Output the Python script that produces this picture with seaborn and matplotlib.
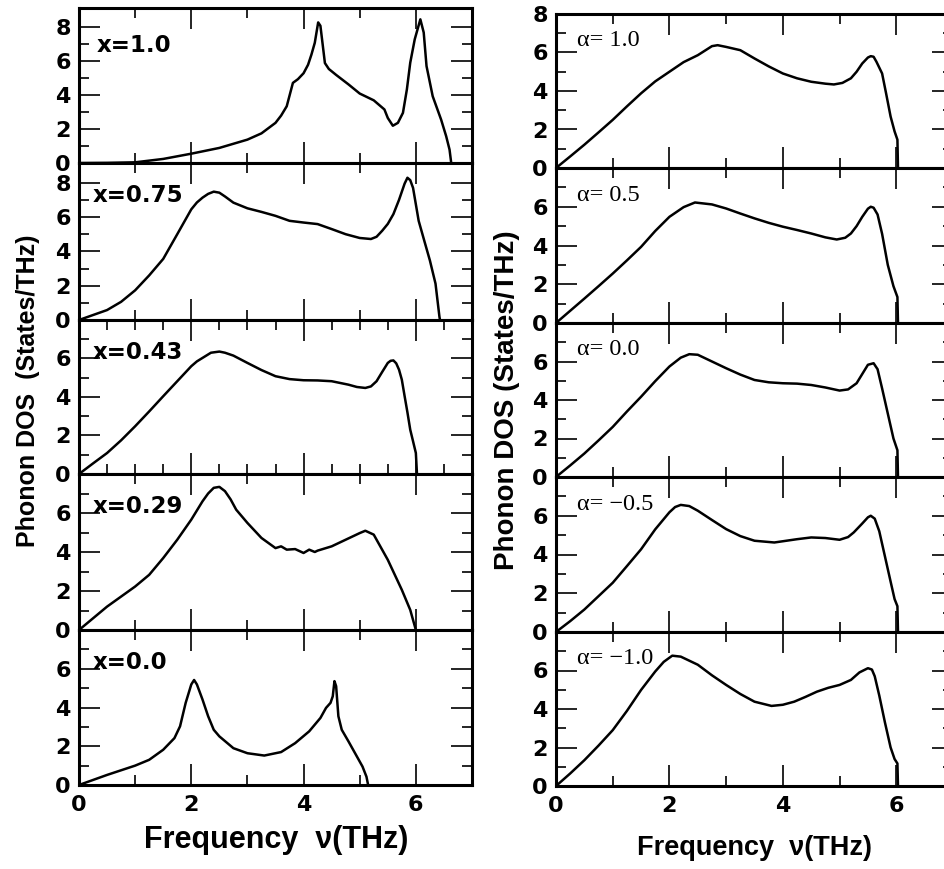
import matplotlib
matplotlib.use("Agg")
import matplotlib.pyplot as plt
import seaborn as sns
import pandas as pd
from matplotlib.ticker import MultipleLocator, FixedLocator

# ---------------- data ----------------
# Left column: composition x
labels_left = ["x=1.0", "x=0.75", "x=0.43", "x=0.29", "x=0.0"]

f_x100 = [0, 0.5, 1.0, 1.5, 2.0, 2.5, 3.0, 3.25, 3.5, 3.6, 3.7, 3.81, 3.9, 4.0, 4.08, 4.14, 4.2,
          4.26, 4.3, 4.34, 4.38, 4.45, 4.58, 4.8, 5.0, 5.25, 5.44, 5.5, 5.59, 5.68, 5.77,
          5.84, 5.9, 5.98, 6.08, 6.14, 6.19, 6.3, 6.45, 6.54, 6.6, 6.63]
d_x100 = [0, 0.01, 0.04, 0.24, 0.55, 0.89, 1.38, 1.75, 2.37, 2.8, 3.35, 4.73, 4.95, 5.3, 5.8,
          6.4, 7.1, 8.3, 8.1, 7.0, 5.9, 5.55, 5.2, 4.64, 4.1, 3.7, 3.16, 2.66, 2.2, 2.37,
          2.96, 4.34, 5.92, 7.3, 8.48, 7.7, 5.72, 3.94, 2.56, 1.58, 0.79, 0.0]

f_x075 = [0, 0.25, 0.5, 0.75, 1.0, 1.25, 1.5, 1.75, 2.0, 2.1, 2.2, 2.3, 2.4, 2.5, 2.6, 2.75,
          3.0, 3.25, 3.5, 3.75, 4.0, 4.25, 4.5, 4.75, 5.0, 5.2, 5.3, 5.4, 5.5, 5.6, 5.7,
          5.8, 5.85, 5.9, 5.95, 6.05, 6.15, 6.25, 6.35, 6.42, 6.43]
d_x075 = [0, 0.29, 0.58, 1.06, 1.73, 2.6, 3.56, 5.0, 6.45, 6.85, 7.13, 7.35, 7.48, 7.42, 7.2,
          6.84, 6.51, 6.3, 6.07, 5.78, 5.68, 5.59, 5.3, 5.0, 4.78, 4.72, 4.85, 5.2, 5.6,
          6.17, 7.0, 7.95, 8.29, 8.15, 7.7, 5.78, 4.62, 3.47, 2.12, 0.19, 0.0]

f_x043 = [0, 0.25, 0.5, 0.75, 1.0, 1.25, 1.5, 1.75, 2.0, 2.1, 2.25, 2.35, 2.5, 2.6, 2.75,
          3.0, 3.25, 3.5, 3.75, 4.0, 4.25, 4.5, 4.65, 4.8, 4.95, 5.1, 5.2, 5.3, 5.4, 5.5,
          5.55, 5.6, 5.65, 5.7, 5.75, 5.8, 5.85, 5.9, 5.95, 6.0, 6.02]
d_x043 = [0, 0.55, 1.09, 1.75, 2.48, 3.25, 4.04, 4.82, 5.6, 5.85, 6.12, 6.3, 6.36, 6.3, 6.15,
          5.77, 5.4, 5.08, 4.93, 4.87, 4.86, 4.82, 4.73, 4.64, 4.52, 4.47, 4.55, 4.82, 5.3,
          5.77, 5.88, 5.9, 5.75, 5.42, 4.9, 4.04, 3.2, 2.3, 1.7, 1.09, 0.0]

f_x029 = [0, 0.5, 1.0, 1.25, 1.5, 1.75, 2.0, 2.2, 2.3, 2.4, 2.5, 2.6, 2.7, 2.8, 3.0, 3.25,
          3.5, 3.6, 3.7, 3.85, 4.0, 4.1, 4.2, 4.25, 4.5, 4.75, 5.0, 5.1, 5.25, 5.5, 5.75,
          5.9, 6.0]
d_x029 = [0, 1.2, 2.23, 2.83, 3.69, 4.63, 5.66, 6.6, 7.0, 7.29, 7.34, 7.12, 6.7, 6.17, 5.49,
          4.72, 4.2, 4.29, 4.12, 4.15, 3.95, 4.12, 4.0, 4.07, 4.29, 4.63, 4.97, 5.09, 4.89,
          3.6, 2.06, 1.03, 0.0]

f_x000 = [0, 0.5, 1.0, 1.25, 1.5, 1.7, 1.8, 1.9, 2.0, 2.05, 2.1, 2.2, 2.3, 2.4, 2.5, 2.75,
          3.0, 3.3, 3.6, 3.85, 4.1, 4.3, 4.4, 4.48, 4.52, 4.55, 4.58, 4.62, 4.68, 4.8, 4.95,
          5.05, 5.12, 5.15]
d_x000 = [0, 0.52, 1.0, 1.3, 1.82, 2.42, 3.03, 4.24, 5.19, 5.42, 5.19, 4.41, 3.55, 2.85, 2.51,
          1.9, 1.64, 1.52, 1.7, 2.16, 2.77, 3.46, 3.98, 4.24, 4.58, 5.36, 5.1, 3.55, 2.85,
          2.25, 1.47, 0.95, 0.43, 0.0]

# Right column: parameter alpha
labels_right = ["α= 1.0", "α= 0.5", "α= 0.0", "α= −0.5", "α= −1.0"]

f_a10 = [0, 0.25, 0.5, 0.75, 1.0, 1.25, 1.5, 1.75, 2.0, 2.25, 2.5, 2.75, 2.85, 3.0, 3.25,
         3.5, 3.75, 4.0, 4.25, 4.5, 4.75, 4.9, 5.05, 5.2, 5.3, 5.4, 5.5, 5.55, 5.6, 5.65,
         5.75, 5.82, 5.9, 5.97, 6.02, 6.03]
d_a10 = [0, 0.6, 1.21, 1.85, 2.5, 3.2, 3.88, 4.5, 5.0, 5.5, 5.86, 6.33, 6.38, 6.29, 6.12,
         5.69, 5.28, 4.91, 4.66, 4.48, 4.38, 4.34, 4.42, 4.66, 5.0, 5.43, 5.74, 5.81, 5.78,
         5.52, 4.91, 3.88, 2.67, 1.9, 1.47, 0.0]

f_a05 = [0, 0.25, 0.5, 0.75, 1.0, 1.25, 1.5, 1.75, 2.0, 2.25, 2.45, 2.75, 3.0, 3.25, 3.5,
         3.75, 4.0, 4.25, 4.5, 4.75, 4.95, 5.1, 5.2, 5.3, 5.4, 5.5, 5.55, 5.6, 5.67, 5.75,
         5.85, 5.95, 6.02, 6.03]
d_a05 = [0, 0.63, 1.26, 1.9, 2.55, 3.23, 3.93, 4.75, 5.48, 5.98, 6.22, 6.12, 5.91, 5.65, 5.4,
         5.17, 4.97, 4.8, 4.62, 4.42, 4.31, 4.4, 4.62, 5.0, 5.48, 5.9, 6.0, 5.95, 5.6, 4.6,
         3.0, 1.9, 1.34, 0.0]

f_a00 = [0, 0.25, 0.5, 0.75, 1.0, 1.25, 1.5, 1.75, 2.0, 2.2, 2.35, 2.5, 2.75, 3.0, 3.25,
         3.5, 3.75, 4.0, 4.25, 4.5, 4.75, 5.0, 5.15, 5.3, 5.4, 5.5, 5.6, 5.67, 5.75, 5.85,
         5.95, 6.02, 6.03]
d_a00 = [0, 0.6, 1.22, 1.9, 2.6, 3.4, 4.17, 4.98, 5.74, 6.2, 6.38, 6.35, 6.0, 5.65, 5.32,
         5.04, 4.92, 4.87, 4.85, 4.78, 4.65, 4.49, 4.55, 4.87, 5.35, 5.83, 5.91, 5.6, 4.6,
         3.3, 2.0, 1.39, 0.0]

f_am05 = [0, 0.25, 0.5, 0.75, 1.0, 1.25, 1.5, 1.75, 2.0, 2.1, 2.2, 2.35, 2.5, 2.75, 3.0,
          3.25, 3.5, 3.85, 4.25, 4.5, 4.75, 5.0, 5.15, 5.25, 5.4, 5.5, 5.55, 5.62, 5.7, 5.8,
          5.9, 5.97, 6.02, 6.03]
d_am05 = [0, 0.56, 1.16, 1.85, 2.54, 3.4, 4.27, 5.3, 6.18, 6.45, 6.56, 6.5, 6.26, 5.78, 5.31,
          4.95, 4.71, 4.62, 4.79, 4.88, 4.85, 4.76, 4.9, 5.14, 5.6, 5.92, 6.0, 5.85, 5.2, 3.9,
          2.6, 1.7, 1.33, 0.0]

f_am10 = [0, 0.25, 0.5, 0.75, 1.0, 1.25, 1.5, 1.75, 1.9, 2.05, 2.2, 2.5, 2.75, 3.0, 3.25,
          3.5, 3.8, 4.0, 4.2, 4.4, 4.6, 4.8, 5.0, 5.2, 5.35, 5.5, 5.57, 5.62, 5.7, 5.8, 5.9,
          5.97, 6.02, 6.03]
d_am10 = [0, 0.65, 1.34, 2.1, 2.9, 3.9, 4.99, 5.95, 6.45, 6.77, 6.72, 6.3, 5.75, 5.25, 4.78,
          4.38, 4.16, 4.22, 4.38, 4.63, 4.9, 5.1, 5.25, 5.51, 5.9, 6.12, 6.05, 5.7, 4.7, 3.3,
          2.0, 1.4, 1.17, 0.0]

left_series = [(f_x100, d_x100), (f_x075, d_x075), (f_x043, d_x043), (f_x029, d_x029), (f_x000, d_x000)]
right_series = [(f_a10, d_a10), (f_a05, d_a05), (f_a00, d_a00), (f_am05, d_am05), (f_am10, d_am10)]

xticks_major = [0, 2, 4, 6]
xtick_labels = ["0", "2", "4", "6"]

# ---------------- figure ----------------
sns.set_theme(style="ticks")
plt.rcParams["font.family"] = ["DejaVu Sans"]
plt.rcParams["font.weight"] = "bold"
for key in ["text.color", "axes.labelcolor", "xtick.color", "ytick.color", "axes.edgecolor"]:
    plt.rcParams[key] = "black"

W, H = 945, 869
fig = plt.figure(figsize=(W / 100, H / 100), dpi=100)

left_bounds = [8, 163, 320, 474, 630, 785]
right_bounds = [14, 168, 323, 477, 632, 786]
left_x0, left_w = 79, 393
right_x0, right_w = 556, 397

SPINE_LW = 2.2
LINE_LW = 1.8


def style_axes(ax, ylim, yticks, xminor, show_xlabels):
    ax.set_xlim(0, 7)
    ax.set_ylim(*ylim)
    ax.xaxis.set_major_locator(FixedLocator(xticks_major))
    ax.xaxis.set_minor_locator(MultipleLocator(xminor))
    ax.yaxis.set_major_locator(FixedLocator(yticks))
    ax.yaxis.set_minor_locator(FixedLocator([1, 3, 5, 7]))
    ax.set_yticklabels([str(t) for t in yticks])
    ax.set_xticklabels(xtick_labels)
    for s in ax.spines.values():
        s.set_linewidth(SPINE_LW)
        s.set_color("black")
    ax.tick_params(which="major", direction="in", length=15, width=1.2, top=True, right=True,
                   labelsize=16, pad=6, colors="black")
    ax.tick_params(which="minor", direction="in", length=7.5, width=1.2, top=True, right=True,
                   colors="black")
    ax.tick_params(axis="x", labelbottom=show_xlabels, pad=7)
    ax.set_xlabel("")
    ax.set_ylabel("")
    ax.set_facecolor("white")


for i, ((fx, dy), lab) in enumerate(zip(left_series, labels_left)):
    top, bot = left_bounds[i], left_bounds[i + 1]
    ax = fig.add_axes([left_x0 / W, 1 - bot / H, left_w / W, (bot - top) / H])
    df = pd.DataFrame({"freq": fx, "dos": dy})
    sns.lineplot(data=df, x="freq", y="dos", ax=ax, sort=False, estimator=None,
                 color="black", linewidth=LINE_LW)
    if i < 2:
        style_axes(ax, (0, 9.15), [0, 2, 4, 6, 8], 1, False)
    else:
        style_axes(ax, (0, 8.0), [0, 2, 4, 6], 0.5 if i == 2 else 1, i == 4)
    ax.text(0.035 if i else 0.046, 0.79 if i else 0.76, lab, transform=ax.transAxes,
            ha="left", va="center", fontsize=16.5, fontweight="bold", family="DejaVu Sans",
            color="black")

for i, ((fx, dy), lab) in enumerate(zip(right_series, labels_right)):
    top, bot = right_bounds[i], right_bounds[i + 1]
    ax = fig.add_axes([right_x0 / W, 1 - bot / H, right_w / W, (bot - top) / H])
    df = pd.DataFrame({"freq": fx, "dos": dy})
    sns.lineplot(data=df, x="freq", y="dos", ax=ax, sort=False, estimator=None,
                 color="black", linewidth=LINE_LW)
    style_axes(ax, (0, 8.0), [0, 2, 4, 6, 8] if i == 0 else [0, 2, 4, 6], 1, i == 4)
    ax.text(0.052, 0.825, lab, transform=ax.transAxes, ha="left", va="center",
            fontsize=17.5, fontweight="normal", family="Liberation Serif", color="black")

# axis titles
fig.text(28 / W, 1 - 391 / H, "Phonon DOS  (States/THz)", rotation=90, ha="center", va="center",
         fontsize=18, fontweight="bold", family="Liberation Sans", color="black")
fig.text(507 / W, 1 - 400 / H, "Phonon DOS (States/THz)", rotation=90, ha="center", va="center",
         fontsize=20, fontweight="bold", family="Liberation Sans", color="black")
fig.text(276 / W, 1 - 840 / H, "Frequency  ν(THz)", ha="center", va="center",
         fontsize=22, fontweight="bold", family="Liberation Sans", color="black")
fig.text(755 / W, 1 - 848 / H, "Frequency  ν(THz)", ha="center", va="center",
         fontsize=19.5, fontweight="bold", family="Liberation Sans", color="black")

fig.savefig("out.png", dpi=100, facecolor="white")
